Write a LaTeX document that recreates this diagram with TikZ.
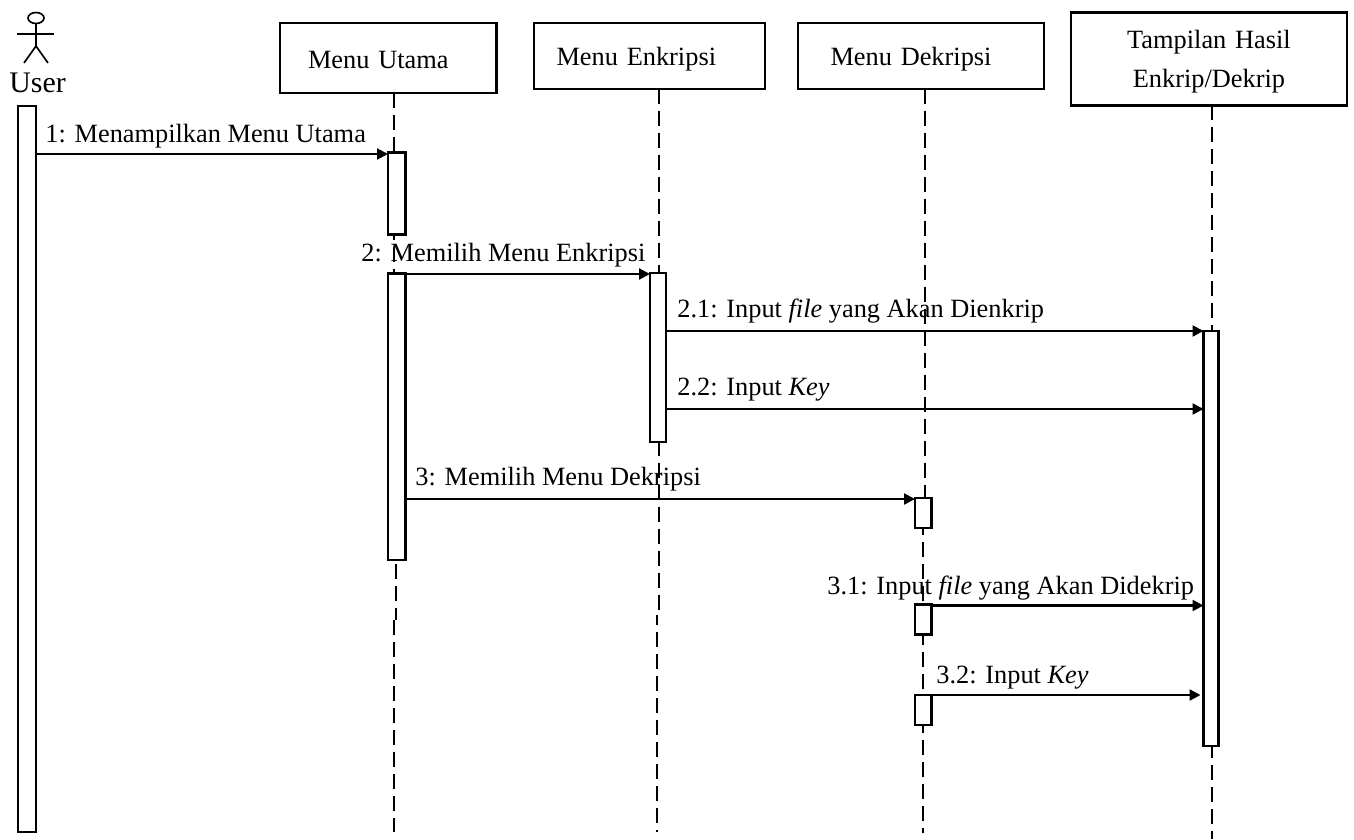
\documentclass[tikz,border=0pt]{standalone}
\usepackage{fontspec}
\setmainfont{Liberation Serif}
\usetikzlibrary{arrows.meta, shapes.geometric}

\begin{document}
\begin{tikzpicture}[
    x=0.02cm, y=-0.02cm,
    every node/.style={font=\fontsize{15}{22.2}\selectfont},
    lifebox/.style={rectangle, draw, line width=1.25pt, anchor=north west, inner ysep=0pt, outer sep=0pt, align=left},
    act/.style={rectangle, draw, line width=1.25pt, fill=white, anchor=north west, inner sep=0pt, outer sep=0pt},
    lifeline/.style={line width=0.95pt, dash pattern=on 0.3cm off 0.14cm},
    msg/.style={-{Triangle[length=2.2mm, width=2.2mm]}, line width=1.25pt},
    msglabel/.style={anchor=base west, inner sep=0pt},
    limb/.style={line width=0.95pt}
]
\useasboundingbox (0,0) rectangle (1354,839);

% Object boxes
\node[lifebox, inner xsep=0.56cm, text width=3.21cm, text height=0.92cm, text depth=0.48cm] (utama) at (280,23) {Menu Utama};
\node[lifebox, inner xsep=0.45cm, text width=3.72cm, text height=0.86cm, text depth=0.46cm] (enkripsi) at (534,23) {Menu Enkripsi};
\node[lifebox, inner xsep=0.65cm, text width=3.62cm, text height=0.86cm, text depth=0.46cm] (dekripsi) at (798,23) {Menu Dekripsi};
\node[lifebox, inner sep=0pt, text width=5.52cm, text height=0.72cm, text depth=1.14cm, align=center] (hasil) at (1071,12.5) {Tampilan Hasil\\Enkrip/Dekrip};

% Actor
\node[ellipse, draw, line width=0.95pt, minimum width=0.32cm, minimum height=0.22cm, inner sep=0pt] (head) at (36,18) {};
\coordinate (hip) at (36,46);
\coordinate (handl) at (17,34);
\coordinate (handr) at (54,34);
\coordinate (footl) at (24,63);
\coordinate (footr) at (48,63);
\draw[limb] (head.south) -- (hip);
\draw[limb] (handl) -- (handr);
\draw[limb] (footl) -- (hip) -- (footr);
\node[font=\fontsize{17}{20}\selectfont, msglabel] (user) at (9,92.5) {User};

% Lifeline ends
\coordinate (ua) at (394,300);
\coordinate (ub) at (396,620);
\coordinate (uc) at (394,832);
\coordinate (ea) at (659,615);
\coordinate (eb) at (657,832);
\coordinate (da) at (925,498);
\coordinate (db) at (923,833);
\coordinate (ha) at (1212,839);

% Lifelines
\draw[lifeline] (utama.south -| ua) -- (ua);
\draw[lifeline] (ub |- ua) -- (ub);
\draw[lifeline] (uc |- ub) -- (uc);
\draw[lifeline] (enkripsi.south -| ea) -- (ea);
\draw[lifeline, dash phase=0.1cm] (eb |- ea) -- (eb);
\draw[lifeline] (dekripsi.south -| da) -- (da);
\draw[lifeline] (db |- da) -- (db);
\draw[lifeline] (hasil.south -| ha) -- (ha);

% Activation bars
\node[act, minimum width=0.36cm, minimum height=14.52cm] (auser) at (18,106) {};
\node[act, minimum width=0.35cm, minimum height=1.64cm] (autama1) at (388,152.5) {};
\node[act, minimum width=0.35cm, minimum height=5.73cm] (autama2) at (388,273.5) {};
\node[act, minimum width=0.32cm, minimum height=3.38cm] (aenkripsi) at (650,273) {};
\node[act, minimum width=0.33cm, minimum height=0.6cm] (adekripsi1) at (915,498) {};
\node[act, minimum width=0.33cm, minimum height=0.6cm] (adekripsi2) at (915,604.5) {};
\node[act, minimum width=0.33cm, minimum height=0.6cm] (adekripsi3) at (915,695) {};
\node[act, minimum width=0.3cm, minimum height=8.3cm] (ahasil) at (1203.5,331) {};

% Message heights
\coordinate (m1) at (0,154);
\coordinate (m2) at (0,274);
\coordinate (m21) at (0,331);
\coordinate (m22) at (0,409);
\coordinate (m3) at (0,499);
\coordinate (m31) at (0,605.5);
\coordinate (m32) at (0,695);

% Messages
\draw[msg] (auser.east |- m1) -- (autama1.west |- m1);
\draw[msg] (autama2.east |- m2) -- (aenkripsi.west |- m2);
\draw[msg] (aenkripsi.east |- m21) -- (ahasil.west |- m21);
\draw[msg] (aenkripsi.east |- m22) -- (ahasil.west |- m22);
\draw[msg] (autama2.east |- m3) -- (adekripsi1.west |- m3);
\draw[msg] (adekripsi2.east |- m31) -- (ahasil.west |- m31);
\draw[msg] (adekripsi3.north -| db) -- ([xshift=-0.06cm]ahasil.west |- m32);

% Message labels
\node[msglabel] (l1) at (45,142) {1: Menampilkan Menu Utama};
\node[msglabel] (l2) at (361,261) {2: Memilih Menu Enkripsi};
\node[msglabel] (l21) at (677,317) {2.1: Input \textit{file} yang Akan Dienkrip};
\node[msglabel] (l22) at (677,395) {2.2: Input \textit{Key}};
\node[msglabel] (l3) at (415,485) {3: Memilih Menu Dekripsi};
\node[msglabel] (l31) at (827,594) {3.1: Input \textit{file} yang Akan Didekrip};
\node[msglabel] (l32) at (936,683) {3.2: Input \textit{Key}};

\end{tikzpicture}
\end{document}
